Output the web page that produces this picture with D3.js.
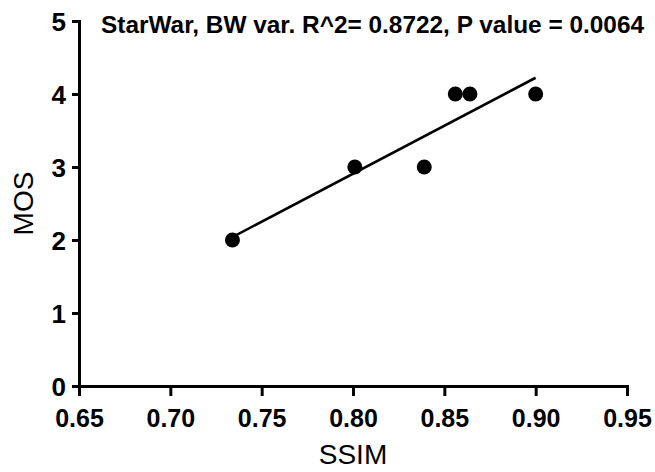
<!DOCTYPE html>
<html>
<head>
<meta charset="utf-8">
<script src="https://cdn.jsdelivr.net/npm/d3@7"></script>
<style>
  html, body { margin: 0; padding: 0; background: #fff; }
  svg { display: block; font-family: "Liberation Sans", Arial, Helvetica, sans-serif; }
</style>
</head>
<body>
<svg id="chart" width="655" height="472"></svg>
<script>
// SSIM vs MOS samples
const ssim = [0.734, 0.801, 0.839, 0.856, 0.864, 0.900];
const mos  = [2, 3, 3, 4, 4, 4];
const xTicks = [0.65, 0.70, 0.75, 0.80, 0.85, 0.90, 0.95];
const yTicks = [0, 1, 2, 3, 4, 5];
const titleText = "StarWar, BW var. R^2= 0.8722, P value = 0.0064";
const xLabel = "SSIM";
const yLabel = "MOS";

const svg = d3.select("#chart");
const plot = { left: 79, right: 627, top: 21, bottom: 386 };

const x = d3.scaleLinear().domain([0.65, 0.95]).range([plot.left, plot.right]);
const y = d3.scaleLinear().domain([0, 5]).range([plot.bottom, plot.top]);

// least-squares fit over the sample range
const mx = d3.mean(ssim), my = d3.mean(mos);
let sxy = 0, sxx = 0;
ssim.forEach((v, i) => { sxy += (v - mx) * (mos[i] - my); sxx += (v - mx) ** 2; });
const slope = sxy / sxx, icpt = my - slope * mx;
const [xMin, xMax] = d3.extent(ssim);

svg.append("line")
  .attr("x1", x(xMin)).attr("y1", y(icpt + slope * xMin))
  .attr("x2", x(xMax)).attr("y2", y(icpt + slope * xMax))
  .attr("stroke", "#000").attr("stroke-width", 2.6);

svg.selectAll("circle.pt").data(ssim).join("circle")
  .attr("class", "pt")
  .attr("cx", d => x(d))
  .attr("cy", (d, i) => y(mos[i]))
  .attr("r", 7.5)
  .attr("fill", "#000");

// axes
const xAxis = d3.axisBottom(x).tickValues(xTicks).tickFormat(d3.format(".2f"))
  .tickSize(10).tickSizeOuter(0).tickPadding(13);
const yAxis = d3.axisLeft(y).tickValues(yTicks).tickFormat(d3.format("d"))
  .tickSize(7).tickSizeOuter(0).tickPadding(6);

const gx = svg.append("g").attr("transform", `translate(0,${plot.bottom})`).call(xAxis);
const gy = svg.append("g").attr("transform", `translate(${plot.left},0)`).call(yAxis);

[gx, gy].forEach(g => {
  g.select(".domain").attr("stroke", "#000").attr("stroke-width", 3).attr("stroke-linecap", "square");
  g.selectAll(".tick line").attr("stroke", "#000").attr("stroke-width", 3);
  g.selectAll(".tick text").attr("fill", "#000").attr("font-family", "Liberation Sans, Arial, sans-serif");
});
gx.selectAll(".tick text").attr("font-size", 25).attr("font-weight", "bold");
gy.selectAll(".tick text").attr("font-size", 26).attr("font-weight", "bold").attr("dy", "0.36em");

// titles
svg.append("text")
  .attr("x", 101).attr("y", 33)
  .attr("font-size", 24.4).attr("font-weight", "bold")
  .text(titleText);

svg.append("text")
  .attr("x", (plot.left + plot.right) / 2).attr("y", 464)
  .attr("text-anchor", "middle").attr("font-size", 28)
  .text(xLabel);

svg.append("text")
  .attr("transform", `translate(33,${(plot.top + plot.bottom) / 2}) rotate(-90)`)
  .attr("text-anchor", "middle").attr("font-size", 28)
  .text(yLabel);
</script>
</body>
</html>
